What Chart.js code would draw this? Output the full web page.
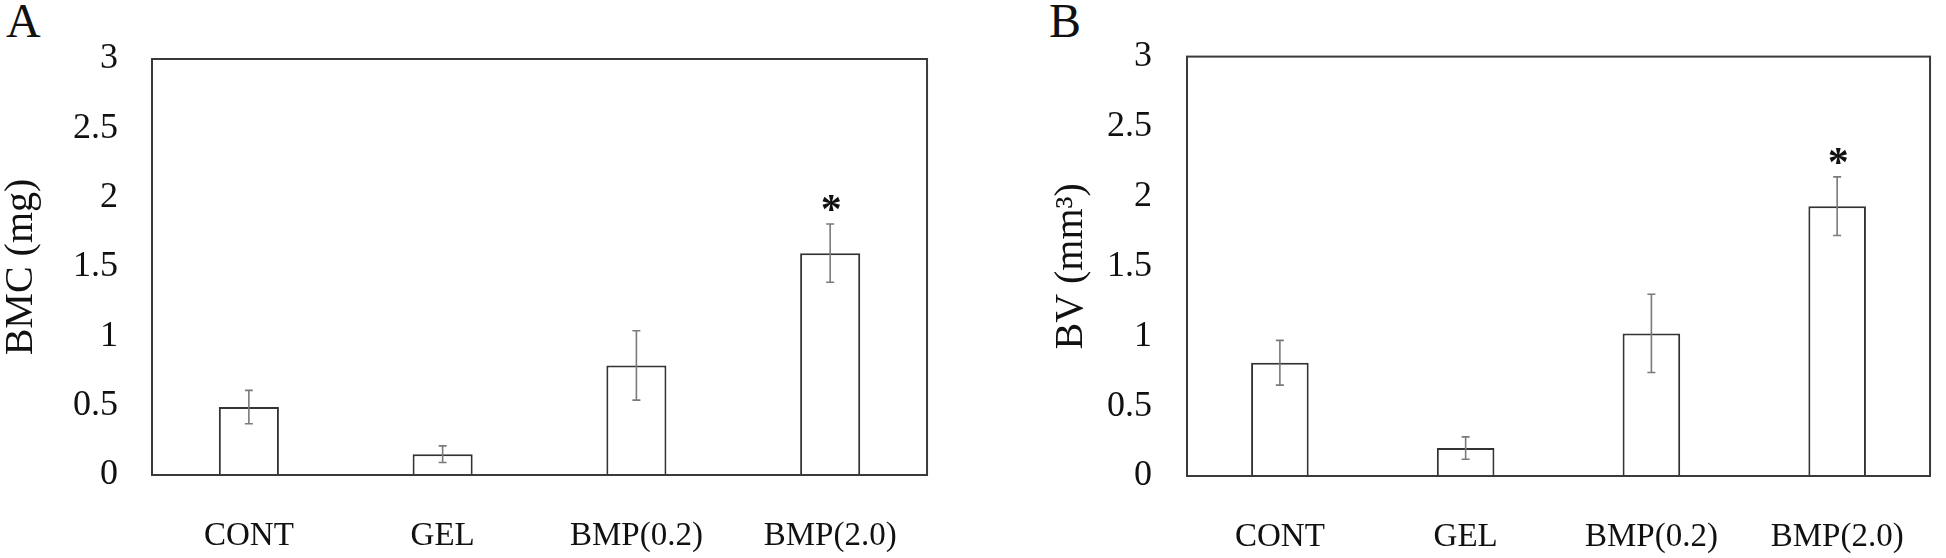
<!DOCTYPE html>
<html>
<head>
<meta charset="utf-8">
<script src="https://cdn.jsdelivr.net/npm/chart.js@4.4.0/dist/chart.umd.min.js"></script>
<style>
  body { margin: 0; background: #fff; width: 1946px; height: 558px; position: relative; overflow: hidden;
         font-family: 'Liberation Serif', 'Times New Roman', serif; }
  .letter { position: absolute; top: -3px; font-size: 48px; line-height: 1; color: #111; }
  .wrap { position: absolute; top: 0; height: 558px; }
</style>
</head>
<body>
<div class="letter" style="left:6px">A</div>
<div class="letter" style="left:1049px">B</div>
<div class="wrap" style="left:0; width:940px"><canvas id="chart-a"></canvas></div>
<div class="wrap" style="left:1050px; width:896px"><canvas id="chart-b"></canvas></div>
<script>
// Groups and values
const groups = ['CONT', 'GEL', 'BMP(0.2)', 'BMP(2.0)'];
const bmcMean = [0.49, 0.15, 0.79, 1.60];
const bmcErr = [0.12, 0.06, 0.25, 0.21];
const bvMean = [0.81, 0.20, 1.02, 1.93];
const bvErr = [0.16, 0.08, 0.28, 0.21];
const significant = [false, false, false, true];
const yTicks = [0, 0.5, 1, 1.5, 2, 2.5, 3];

const serif = "'Liberation Serif', 'Times New Roman', serif";

// error bars + asterisks, drawn from the bar elements and y scale
const errorBarPlugin = {
    id: 'errorBars',
    afterDatasetsDraw(chart, args, opts) {
        const ctx = chart.ctx;
        const yScale = chart.scales.y;
        const bars = chart.getDatasetMeta(0).data;
        const means = chart.data.datasets[0].data;
        ctx.save();
        ctx.strokeStyle = '#7a7a7a';
        ctx.lineWidth = 1.6;
        bars.forEach((bar, i) => {
            const top = yScale.getPixelForValue(means[i] + opts.errors[i]);
            const bottom = yScale.getPixelForValue(means[i] - opts.errors[i]);
            ctx.beginPath();
            ctx.moveTo(bar.x, top);
            ctx.lineTo(bar.x, bottom);
            ctx.moveTo(bar.x - 4, top);
            ctx.lineTo(bar.x + 4, top);
            ctx.moveTo(bar.x - 4, bottom);
            ctx.lineTo(bar.x + 4, bottom);
            ctx.stroke();
            if (opts.stars[i]) {
                ctx.fillStyle = '#111';
                ctx.font = 'bold 42px ' + serif;
                ctx.textAlign = 'center';
                ctx.textBaseline = 'alphabetic';
                const m = ctx.measureText('*');
                const mid = top - 21;
                ctx.fillText('*', bar.x + 1, mid + (m.actualBoundingBoxAscent - m.actualBoundingBoxDescent) / 2);
            }
        });
        ctx.restore();
    }
};

// plot frame around the chart area
const framePlugin = {
    id: 'frame',
    afterDraw(chart) {
        const { ctx, chartArea } = chart;
        ctx.save();
        ctx.strokeStyle = '#3a3a3a';
        ctx.lineWidth = 2;
        ctx.strokeRect(chartArea.left, chartArea.top, chartArea.right - chartArea.left, chartArea.bottom - chartArea.top);
        ctx.restore();
    }
};

function makeChart(id, means, errors, title, axisWidth, pad) {
    return new Chart(document.getElementById(id), {
        type: 'bar',
        data: {
            labels: groups,
            datasets: [{
                data: means,
                backgroundColor: '#ffffff',
                borderColor: '#333333',
                borderWidth: 2,
                borderSkipped: 'start',
                barPercentage: 0.31,
                categoryPercentage: 1.0
            }]
        },
        options: {
            responsive: true,
            maintainAspectRatio: false,
            animation: false,
            layout: { padding: pad },
            plugins: {
                legend: { display: false },
                tooltip: { enabled: false },
                errorBars: { errors: errors, stars: significant }
            },
            scales: {
                x: {
                    grid: { display: false, drawTicks: false },
                    border: { display: false },
                    ticks: { color: '#111', font: { family: serif, size: 33 }, padding: 42, maxRotation: 0 },
                    afterFit(scale) { scale.height = pad.xHeight; }
                },
                y: {
                    min: 0,
                    max: 3,
                    afterBuildTicks(scale) { scale.ticks = yTicks.map(v => ({ value: v })); },
                    grid: { display: false, drawTicks: false },
                    border: { display: false },
                    ticks: {
                        color: '#111',
                        font: { family: serif, size: 36 },
                        padding: pad.tickPad,
                        callback: v => String(v)
                    },
                    title: {
                        display: true,
                        text: title,
                        color: '#111',
                        font: { family: serif, size: 40, lineHeight: 1.05 },
                        padding: { top: 0, bottom: 0 }
                    },
                    afterFit(scale) { scale.width = axisWidth; }
                }
            }
        },
        plugins: [errorBarPlugin, framePlugin]
    });
}

makeChart('chart-a', bmcMean, bmcErr, 'BMC (mg)', 152,
    { top: 59, right: 11, left: 0, bottom: 0, xHeight: 83, tickPad: 34 });
makeChart('chart-b', bvMean, bvErr, 'BV (mm\u00b3)', 137,
    { top: 52, right: 3, left: 0, bottom: 0, xHeight: 82, tickPad: 35 });
</script>
</body>
</html>
